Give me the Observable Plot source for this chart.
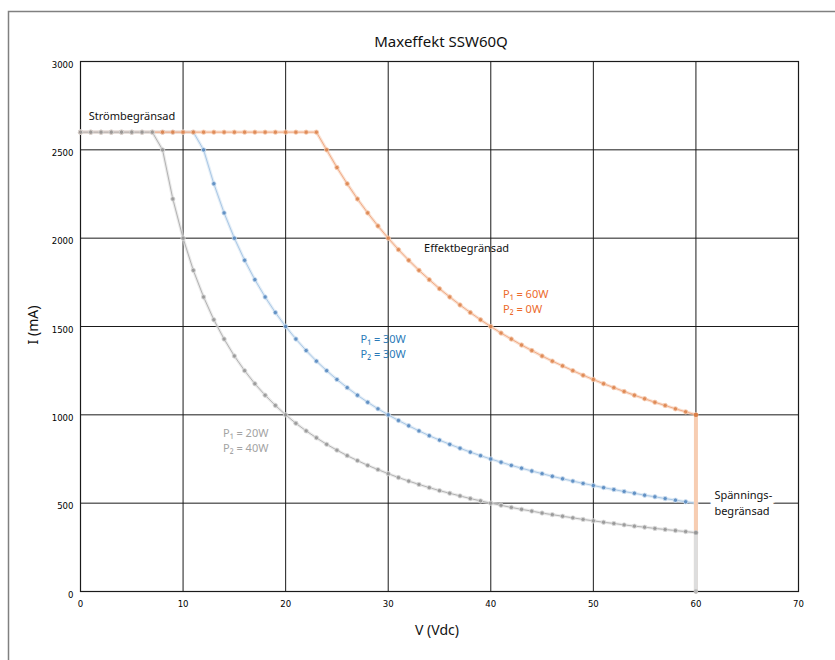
<!DOCTYPE html>
<html>
<head>
<meta charset="utf-8">
<script src="https://cdn.jsdelivr.net/npm/d3@7"></script>
<script src="https://cdn.jsdelivr.net/npm/@observablehq/plot@0.6"></script>
<style>
  html, body { margin: 0; padding: 0; background: #fff; }
  #chart { position: relative; width: 835px; height: 660px; overflow: hidden; }
</style>
</head>
<body>
<div id="chart"></div>
<script>
// ---- Data ----
const voltage = [0,1,2,3,4,5,6,7,8,9,10,11,12,13,14,15,16,17,18,19,20,21,22,23,24,25,26,27,28,29,30,
  31,32,33,34,35,36,37,38,39,40,41,42,43,44,45,46,47,48,49,50,51,52,53,54,55,56,57,58,59,60];

// P1 = 20W, P2 = 40W (grey)
const current20 = [2600,2600,2600,2600,2600,2600,2600,2600,2500,2222,2000,1818,1667,1538,1429,1333,1250,1176,1111,1053,1000,
  952,909,870,833,800,769,741,714,690,667,645,625,606,588,571,556,541,526,513,500,
  488,476,465,455,444,435,426,417,408,400,392,385,377,370,364,357,351,345,339,333];

// P1 = 30W, P2 = 30W (blue)
const current30 = [2600,2600,2600,2600,2600,2600,2600,2600,2600,2600,2600,2600,2500,2308,2143,2000,1875,1765,1667,1579,1500,
  1429,1364,1304,1250,1200,1154,1111,1071,1034,1000,968,938,909,882,857,833,811,789,769,750,
  732,714,698,682,667,652,638,625,612,600,588,577,566,556,545,536,526,517,508,500];

// P1 = 60W, P2 = 0W (orange)
const current60 = [2600,2600,2600,2600,2600,2600,2600,2600,2600,2600,2600,2600,2600,2600,2600,2600,2600,2600,2600,2600,2600,
  2600,2600,2600,2500,2400,2308,2222,2143,2069,2000,1935,1875,1818,1765,1714,1667,1622,1579,1538,1500,
  1463,1429,1395,1364,1333,1304,1277,1250,1224,1200,1176,1154,1132,1111,1091,1071,1053,1034,1017,1000];

// Voltage limit (vertical drop at 60 V)
const limitV = [60, 60];
const limit60 = [1000, 0];
const limit30 = [500, 0];
const limit20 = [333, 0];

const xTicks = [0,10,20,30,40,50,60,70];
const yTicks = [0,500,1000,1500,2000,2500,3000];

const titleText = "Maxeffekt SSW60Q";
const xLabel = "V (Vdc)";
const yLabel = "I (mA)";

const labelTexts = ["Strömbegränsad", "Effektbegränsad", "Spännings-\nbegränsad"];
const labelV = [0.8, 33.5, 61.8];
const labelI = [2694, 1950, 507];
const labelHalo = [false, false, true];

const seriesLabels = ["P\u2081 = 60W\nP\u2082 = 0W", "P\u2081 = 30W\nP\u2082 = 30W", "P\u2081 = 20W\nP\u2082 = 40W"];
const seriesLabelV = [41.2, 27.3, 13.9];
const seriesLabelI = [1645, 1390, 858];

// ---- Build tables ----
const toRows = (vs, is) => vs.map((v, k) => ({v, i: is[k]}));
const s20 = toRows(voltage, current20);
const s30 = toRows(voltage, current30);
const s60 = toRows(voltage, current60);
const l20 = toRows(limitV, limit20);
const l30 = toRows(limitV, limit30);
const l60 = toRows(limitV, limit60);
const labels = labelTexts.map((t, k) => ({t, v: labelV[k], i: labelI[k], halo: labelHalo[k]}));
const sLabels = seriesLabels.map((t, k) => ({t, v: seriesLabelV[k], i: seriesLabelI[k]}));

const colors = {
  orange: {halo: "#f7cdb2", line: "#f0aa86", dot: "#da7d44", text: "#ec6a2c"},
  blue:   {halo: "#d2e2f2", line: "#a9c7e5", dot: "#4a80ba", text: "#2a7ab8"},
  grey:   {halo: "#dddddd", line: "#b2b2b2", dot: "#909090", text: "#a3a3a3"}
};

function series(data, c) {
  return [
    Plot.line(data, {x: "v", y: "i", stroke: c.halo, strokeWidth: 3.2, strokeOpacity: 0.6}),
    Plot.line(data, {x: "v", y: "i", stroke: c.line, strokeWidth: 1}),
    Plot.dot(data, {x: "v", y: "i", r: 2.2, fill: c.dot, fillOpacity: 0.8, stroke: c.halo, strokeWidth: 0.8})
  ];
}

const tickFont = "'DejaVu Sans Condensed', 'DejaVu Sans', sans-serif";

const plot = Plot.plot({
  width: 835,
  height: 660,
  marginLeft: 80,
  marginRight: 37,
  marginTop: 61,
  marginBottom: 69,
  style: {fontFamily: "'Noto Sans', 'Open Sans', sans-serif", background: "transparent", overflow: "visible"},
  x: {domain: [0, 70]},
  y: {domain: [0, 3000]},
  marks: [
    Plot.gridX(xTicks, {stroke: "#1a1a1a", strokeOpacity: 1, strokeWidth: 1}),
    Plot.gridY(yTicks, {stroke: "#1a1a1a", strokeOpacity: 1, strokeWidth: 1}),
    Plot.frame({stroke: "#1a1a1a", strokeWidth: 1.2}),
    Plot.axisX(xTicks, {tickSize: 0, tickPadding: 9, fontSize: 9.5, label: null, tickFormat: d => String(d),
      fontFamily: tickFont}),
    Plot.axisY(yTicks, {tickSize: 0, tickPadding: 7, fontSize: 9.5, label: null, dy: 3, tickFormat: d => String(d),
      fontFamily: tickFont}),
    // blue (bottom), orange, grey (top)
    Plot.line(l30, {x: "v", y: "i", stroke: colors.blue.halo, strokeWidth: 4}),
    ...series(s30, colors.blue),
    Plot.line(l60, {x: "v", y: "i", stroke: colors.orange.halo, strokeWidth: 4}),
    ...series(s60, colors.orange),
    Plot.line(l20, {x: "v", y: "i", stroke: colors.grey.halo, strokeWidth: 4}),
    ...series(s20, colors.grey),
    Plot.dot(l20, {x: "v", y: "i", r: 2.2, fill: colors.grey.dot, fillOpacity: 0.5}),
    Plot.dot([l60[0]], {x: "v", y: "i", r: 2.2, fill: colors.orange.dot}),
    // annotations
    Plot.text(labels, {filter: d => d.halo, x: "v", y: "i", text: "t", textAnchor: "start", fontSize: 11,
      fill: "white", stroke: "white", strokeWidth: 12, lineHeight: 1.4}),
    Plot.text(labels, {x: "v", y: "i", text: "t", textAnchor: "start", fontSize: 11, fill: "#111", lineHeight: 1.4}),
    Plot.text(sLabels, {x: "v", y: "i", text: "t", textAnchor: "start", fontSize: 11, lineHeight: 1.35,
      fill: (d, k) => [colors.orange.text, colors.blue.text, colors.grey.text][k]})
  ]
});

const svg = d3.select(plot);
// outer frame
svg.insert("path", ":first-child")
  .attr("d", "M8.5,660 V11.5 H835")
  .attr("fill", "none").attr("stroke", "#808080").attr("stroke-width", 1.5);
svg.insert("rect", ":first-child").attr("width", 835).attr("height", 660).attr("fill", "white");
svg.append("text").text(titleText)
  .attr("x", 441).attr("y", 47).attr("text-anchor", "middle")
  .attr("font-size", 15).attr("fill", "#111");
svg.append("text").text(xLabel)
  .attr("x", 437).attr("y", 635).attr("text-anchor", "middle")
  .attr("font-size", 14).attr("fill", "#111");
svg.append("text").text(yLabel)
  .attr("transform", "translate(38,325) rotate(-90)").attr("text-anchor", "middle")
  .attr("font-size", 14).attr("fill", "#111");

document.getElementById("chart").appendChild(plot);
</script>
</body>
</html>
